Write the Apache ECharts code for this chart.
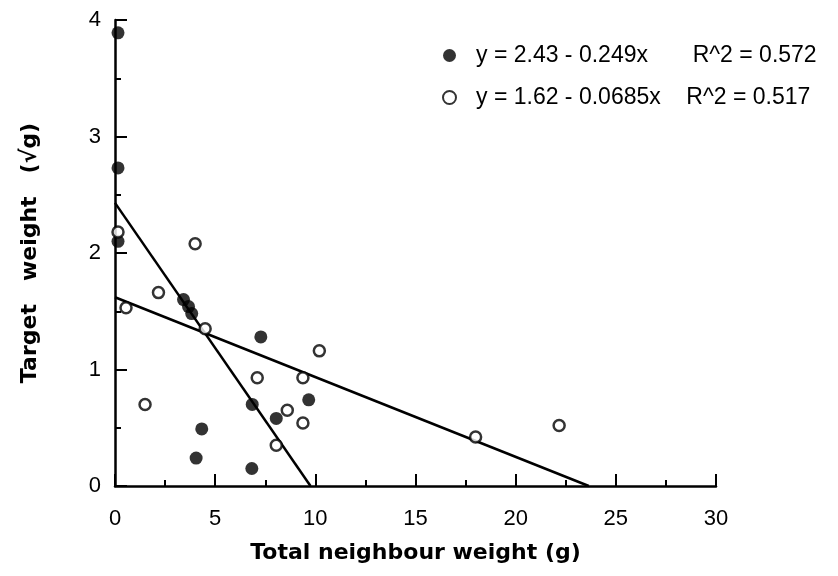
<!DOCTYPE html>
<html>
<head>
<meta charset="utf-8">
<script src="https://cdn.jsdelivr.net/npm/echarts@6/dist/echarts.min.js"></script>
<style>
  html, body { margin: 0; padding: 0; background: #fff; }
  #chart { width: 838px; height: 576px; }
</style>
</head>
<body>
<div id="chart"></div>
<script>
  // filled circles (group 1)
  var filledX = [0.15, 0.15, 0.15, 3.42, 3.67, 3.83, 7.28, 9.67, 6.85, 8.05, 4.33, 4.05, 6.83]
  var filledY = [3.89, 2.73, 2.10, 1.60, 1.54, 1.48, 1.28, 0.74, 0.70, 0.58, 0.49, 0.24, 0.15]
  // open circles (group 2)
  var openX = [4.0, 0.15, 2.17, 0.55, 4.5, 10.2, 7.1, 9.38, 1.5, 8.6, 9.38, 8.05, 18.0, 22.17]
  var openY = [2.08, 2.18, 1.66, 1.53, 1.35, 1.16, 0.93, 0.93, 0.70, 0.65, 0.54, 0.35, 0.42, 0.52]
  // regression coefficients [intercept, slope]
  var fitFilled = [2.43, -0.249]
  var fitOpen = [1.62, -0.0685]
  var legendNames = ['y = 2.43 - 0.249x       R^2 = 0.572', 'y = 1.62 - 0.0685x    R^2 = 0.517']

  function pairs(xs, ys) {
    return xs.map(function (x, i) { return [x, ys[i]] })
  }
  // fitted line from x = 0 to where it reaches y = 0
  function fitLine(c) {
    return [[0, c[0]], [-c[0] / c[1], 0]]
  }

  var myChart = echarts.init(document.getElementById('chart'))
  var font = 'Liberation Sans, Arial, sans-serif'
  var titleFont = 'DejaVu Sans, sans-serif'
  var option = {
    animation: false,
    backgroundColor: '#fff',
    grid: { left: 115, right: 122, top: 20, bottom: 90 },
    legend: {
      orient: 'vertical',
      left: 437,
      top: 39,
      itemGap: 19,
      itemWidth: 13,
      itemHeight: 13,
      icon: 'circle',
      data: legendNames,
      textStyle: { fontFamily: font, fontSize: 23, color: '#000', padding: [0, 0, 0, 15] }
    },
    xAxis: {
      type: 'value',
      min: 0, max: 30, interval: 5,
      name: 'Total neighbour weight (g)',
      nameLocation: 'middle',
      nameGap: 56,
      nameTextStyle: { fontFamily: titleFont, fontSize: 22, fontWeight: 'bold', color: '#000' },
      axisLine: { show: true, lineStyle: { color: '#000', width: 2.5 } },
      axisTick: { show: true, inside: true, length: 12, lineStyle: { color: '#000', width: 2 } },
      minorTick: { show: true, splitNumber: 2, length: 6, lineStyle: { color: '#000', width: 2 } },
      axisLabel: { fontFamily: font, fontSize: 22, color: '#000', margin: 22 },
      splitLine: { show: false }
    },
    yAxis: {
      type: 'value',
      min: 0, max: 4, interval: 1,
      name: 'Target   weight   (√g)',
      nameLocation: 'middle',
      nameGap: 74,
      nameTextStyle: { fontFamily: titleFont, fontSize: 22, fontWeight: 'bold', color: '#000' },
      axisLine: { show: true, lineStyle: { color: '#000', width: 2.5 } },
      axisTick: { show: true, inside: true, length: 12, lineStyle: { color: '#000', width: 2 } },
      minorTick: { show: true, splitNumber: 2, length: 6, lineStyle: { color: '#000', width: 2 } },
      axisLabel: { fontFamily: font, fontSize: 22, color: '#000', margin: 14 },
      splitLine: { show: false }
    },
    series: [
      {
        name: legendNames[0],
        type: 'scatter',
        symbol: 'circle',
        symbolSize: 13,
        itemStyle: { color: '#000' },
        data: pairs(filledX, filledY),
        z: 3
      },
      {
        name: legendNames[1],
        type: 'scatter',
        symbol: 'circle',
        symbolSize: 11,
        itemStyle: { color: '#fff', borderColor: '#000', borderWidth: 2.5 },
        data: pairs(openX, openY),
        z: 3
      },
      {
        type: 'line',
        data: fitLine(fitFilled),
        symbol: 'none',
        lineStyle: { color: '#000', width: 2.5 },
        z: 2
      },
      {
        type: 'line',
        data: fitLine(fitOpen),
        symbol: 'none',
        lineStyle: { color: '#000', width: 2.5 },
        z: 2
      }
    ]
  }
  option && myChart.setOption(option)
  window.addEventListener('resize', function () {
    myChart.resize()
  })
</script>
</body>
</html>
